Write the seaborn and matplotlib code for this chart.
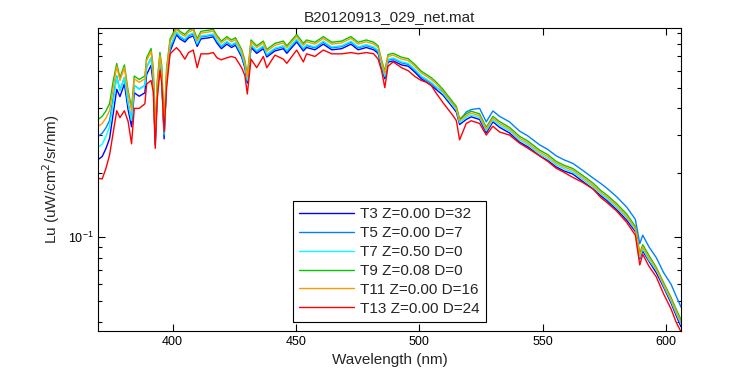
import numpy as np
import pandas as pd
import matplotlib
matplotlib.use('Agg')
import matplotlib.pyplot as plt
import matplotlib.ticker as mticker
import seaborn as sns

# Wavelength samples (nm)
wavelength = [
    370, 371.5, 373, 374.5, 376, 377.4, 378.7, 380.5, 382, 383.4,
    384.5, 386.5, 388.8, 389.5, 391.3, 392.2, 393, 393.8, 394.9, 395.6,
    396.6, 397.6, 399, 401.6, 403, 405, 406.5, 408.4, 410, 411.5,
    414.4, 416.5, 418, 419.8, 422, 423.9, 425.5, 428, 429.3, 430.3,
    431.8, 434.1, 436.8, 438.2, 441.5, 444.9, 446.3, 450.3, 453, 454.3,
    457.7, 461.1, 464.5, 468.5, 472.3, 475.2, 478.5, 481.5, 483.3, 484.7,
    486, 487.3, 489.4, 492.8, 495.5, 498.1, 500.8, 502.9, 504.9, 506.9,
    509.6, 513.6, 515, 516.3, 519, 521, 524.4, 527.1, 529.8, 532.5,
    536.5, 540.6, 544, 548.7, 552, 555.4, 558.5, 562.2, 566.2, 570.3,
    573.5, 576, 580, 584, 587.5, 589.3, 590.5, 593, 596, 599,
    602, 604, 606]

# Lu values per cast
t3 = [
    0.231, 0.238, 0.259, 0.289, 0.38, 0.491, 0.454, 0.521, 0.395, 0.328,
    0.473, 0.456, 0.473, 0.576, 0.636, 0.516, 0.27, 0.468, 0.639, 0.558,
    0.288, 0.54, 0.738, 0.884, 0.846, 0.818, 0.855, 0.874, 0.780, 0.846,
    0.855, 0.865, 0.808, 0.761, 0.799, 0.771, 0.790, 0.696, 0.620, 0.526,
    0.771, 0.724, 0.761, 0.696, 0.743, 0.761, 0.724, 0.818, 0.743, 0.771,
    0.752, 0.799, 0.752, 0.761, 0.799, 0.752, 0.771, 0.752, 0.724, 0.620,
    0.550, 0.658, 0.667, 0.639, 0.630, 0.592, 0.550, 0.531, 0.512, 0.489,
    0.461, 0.403, 0.384, 0.336, 0.355, 0.365, 0.355, 0.307, 0.346, 0.326,
    0.307, 0.278, 0.264, 0.240, 0.228, 0.213, 0.204, 0.197, 0.182, 0.168,
    0.156, 0.148, 0.134, 0.120, 0.106, 0.079, 0.086, 0.077, 0.068, 0.058,
    0.049, 0.043, 0.038]
t5 = [
    0.297, 0.306, 0.324, 0.351, 0.45, 0.567, 0.486, 0.558, 0.423, 0.351,
    0.512, 0.493, 0.512, 0.623, 0.688, 0.558, 0.279, 0.484, 0.660, 0.577,
    0.298, 0.558, 0.763, 0.902, 0.864, 0.835, 0.874, 0.893, 0.797, 0.864,
    0.874, 0.883, 0.826, 0.778, 0.816, 0.787, 0.806, 0.710, 0.634, 0.538,
    0.787, 0.739, 0.778, 0.710, 0.758, 0.778, 0.739, 0.835, 0.758, 0.787,
    0.768, 0.816, 0.768, 0.778, 0.816, 0.768, 0.787, 0.768, 0.739, 0.634,
    0.562, 0.672, 0.682, 0.653, 0.643, 0.605, 0.562, 0.542, 0.523, 0.499,
    0.48, 0.42, 0.40, 0.35, 0.385, 0.395, 0.400, 0.346, 0.389, 0.367,
    0.346, 0.313, 0.297, 0.270, 0.257, 0.240, 0.230, 0.221, 0.205, 0.189,
    0.178, 0.169, 0.154, 0.138, 0.121, 0.093, 0.102, 0.090, 0.080, 0.068,
    0.060, 0.053, 0.047]
t7 = [
    0.264, 0.272, 0.295, 0.328, 0.43, 0.561, 0.486, 0.558, 0.423, 0.351,
    0.512, 0.493, 0.512, 0.623, 0.688, 0.558, 0.285, 0.494, 0.675, 0.589,
    0.304, 0.57, 0.779, 0.912, 0.873, 0.844, 0.883, 0.902, 0.805, 0.873,
    0.883, 0.892, 0.834, 0.786, 0.825, 0.795, 0.815, 0.718, 0.640, 0.543,
    0.795, 0.747, 0.786, 0.718, 0.766, 0.786, 0.747, 0.844, 0.766, 0.795,
    0.776, 0.825, 0.776, 0.786, 0.825, 0.776, 0.795, 0.776, 0.747, 0.640,
    0.567, 0.679, 0.689, 0.660, 0.650, 0.611, 0.567, 0.548, 0.529, 0.504,
    0.470, 0.412, 0.392, 0.343, 0.363, 0.372, 0.363, 0.314, 0.353, 0.333,
    0.314, 0.284, 0.270, 0.245, 0.233, 0.218, 0.209, 0.201, 0.186, 0.172,
    0.159, 0.151, 0.137, 0.123, 0.108, 0.080, 0.088, 0.078, 0.070, 0.059,
    0.050, 0.044, 0.039]
t9 = [
    0.356, 0.367, 0.389, 0.421, 0.54, 0.649, 0.556, 0.639, 0.484, 0.402,
    0.567, 0.546, 0.567, 0.69, 0.762, 0.618, 0.309, 0.536, 0.731, 0.639,
    0.33, 0.618, 0.845, 0.959, 0.918, 0.887, 0.928, 0.949, 0.847, 0.918,
    0.928, 0.938, 0.877, 0.826, 0.867, 0.836, 0.857, 0.755, 0.673, 0.571,
    0.836, 0.785, 0.826, 0.755, 0.806, 0.826, 0.785, 0.887, 0.806, 0.836,
    0.816, 0.867, 0.816, 0.826, 0.867, 0.816, 0.836, 0.816, 0.785, 0.673,
    0.597, 0.714, 0.724, 0.694, 0.683, 0.643, 0.597, 0.576, 0.556, 0.530,
    0.490, 0.428, 0.408, 0.357, 0.377, 0.388, 0.377, 0.326, 0.367, 0.347,
    0.326, 0.296, 0.281, 0.255, 0.243, 0.226, 0.217, 0.209, 0.194, 0.179,
    0.165, 0.157, 0.143, 0.128, 0.112, 0.084, 0.092, 0.082, 0.072, 0.061,
    0.052, 0.046, 0.041]
t11 = [
    0.33, 0.34, 0.36, 0.39, 0.50, 0.63, 0.54, 0.62, 0.47, 0.39,
    0.55, 0.53, 0.55, 0.67, 0.74, 0.60, 0.30, 0.52, 0.71, 0.62,
    0.32, 0.60, 0.82, 0.94, 0.90, 0.87, 0.91, 0.93, 0.83, 0.90,
    0.91, 0.92, 0.86, 0.81, 0.85, 0.82, 0.84, 0.74, 0.66, 0.56,
    0.82, 0.77, 0.81, 0.74, 0.79, 0.81, 0.77, 0.87, 0.79, 0.82,
    0.80, 0.85, 0.80, 0.81, 0.85, 0.80, 0.82, 0.80, 0.77, 0.66,
    0.585, 0.70, 0.71, 0.68, 0.67, 0.63, 0.585, 0.565, 0.545, 0.52,
    0.48, 0.42, 0.40, 0.35, 0.37, 0.38, 0.37, 0.32, 0.36, 0.34,
    0.32, 0.29, 0.275, 0.25, 0.238, 0.222, 0.213, 0.205, 0.19, 0.175,
    0.162, 0.154, 0.140, 0.125, 0.110, 0.082, 0.090, 0.080, 0.071, 0.060,
    0.051, 0.045, 0.040]
t13 = [
    0.188, 0.187, 0.209, 0.242, 0.31, 0.39, 0.362, 0.39, 0.348, 0.273,
    0.40, 0.40, 0.42, 0.52, 0.54, 0.48, 0.26, 0.44, 0.60, 0.53,
    0.31, 0.50, 0.72, 0.77, 0.74, 0.68, 0.73, 0.75, 0.62, 0.72,
    0.72, 0.73, 0.69, 0.675, 0.69, 0.70, 0.69, 0.62, 0.57, 0.467,
    0.68, 0.62, 0.70, 0.62, 0.71, 0.68, 0.65, 0.75, 0.66, 0.72,
    0.70, 0.75, 0.72, 0.72, 0.73, 0.72, 0.73, 0.72, 0.68, 0.60,
    0.50, 0.63, 0.66, 0.62, 0.60, 0.565, 0.54, 0.53, 0.51, 0.47,
    0.425, 0.37, 0.35, 0.285, 0.34, 0.35, 0.34, 0.30, 0.33, 0.31,
    0.30, 0.275, 0.26, 0.24, 0.226, 0.21, 0.201, 0.19, 0.18, 0.168,
    0.153, 0.145, 0.132, 0.117, 0.102, 0.074, 0.083, 0.073, 0.065, 0.054,
    0.046, 0.040, 0.036]

labels = ['T3 Z=0.00 D=32', 'T5 Z=0.00 D=7', 'T7 Z=0.50 D=0',
          'T9 Z=0.08 D=0', 'T11 Z=0.00 D=16', 'T13 Z=0.00 D=24']
colors = ['#0000ff', '#0080ff', '#00ffff', '#00c800', '#ff9900', '#ff0000']
series = [t3, t5, t7, t9, t11, t13]

sns.set_style('ticks')
plt.rcParams['font.family'] = ['Liberation Sans', 'DejaVu Sans']

fig = plt.figure(figsize=(7.5, 3.75), dpi=100)
ax = fig.add_axes([0.1313, 0.1173, 0.7767, 0.8072])

for vals, lab, col in zip(series, labels, colors):
    sns.lineplot(x=wavelength, y=vals, color=col, label=lab, ax=ax,
                 linewidth=1.0, legend=False)

ax.set_yscale('log')
ax.set_xlim(370, 606)
ax.set_ylim(0.0363, 0.948)
ax.set_xticks([400, 450, 500, 550, 600])
ax.yaxis.set_minor_formatter(mticker.NullFormatter())

ax.tick_params(which='both', direction='in', top=True, right=True,
               colors='black', labelsize=9, width=0.8)
ax.tick_params(which='major', length=5)
ax.tick_params(which='minor', length=3)
for sp in ax.spines.values():
    sp.set_color('black')
    sp.set_linewidth(0.8)

ax.set_title('B20120913_029_net.mat', fontsize=11, pad=5)
ax.set_xlabel('Wavelength (nm)', fontsize=11)
ax.set_ylabel('Lu (uW/cm$^2$/sr/nm)', fontsize=11)

handles = ax.get_lines()
leg = ax.legend(handles, labels, loc='lower center', fontsize=11,
                frameon=True, fancybox=False, framealpha=1,
                edgecolor='black', handlelength=3.6, handletextpad=0.4,
                labelspacing=0.32, borderpad=0.4, borderaxespad=0.6)
leg.get_frame().set_linewidth(0.8)

fig.savefig('out.png', dpi=100)
